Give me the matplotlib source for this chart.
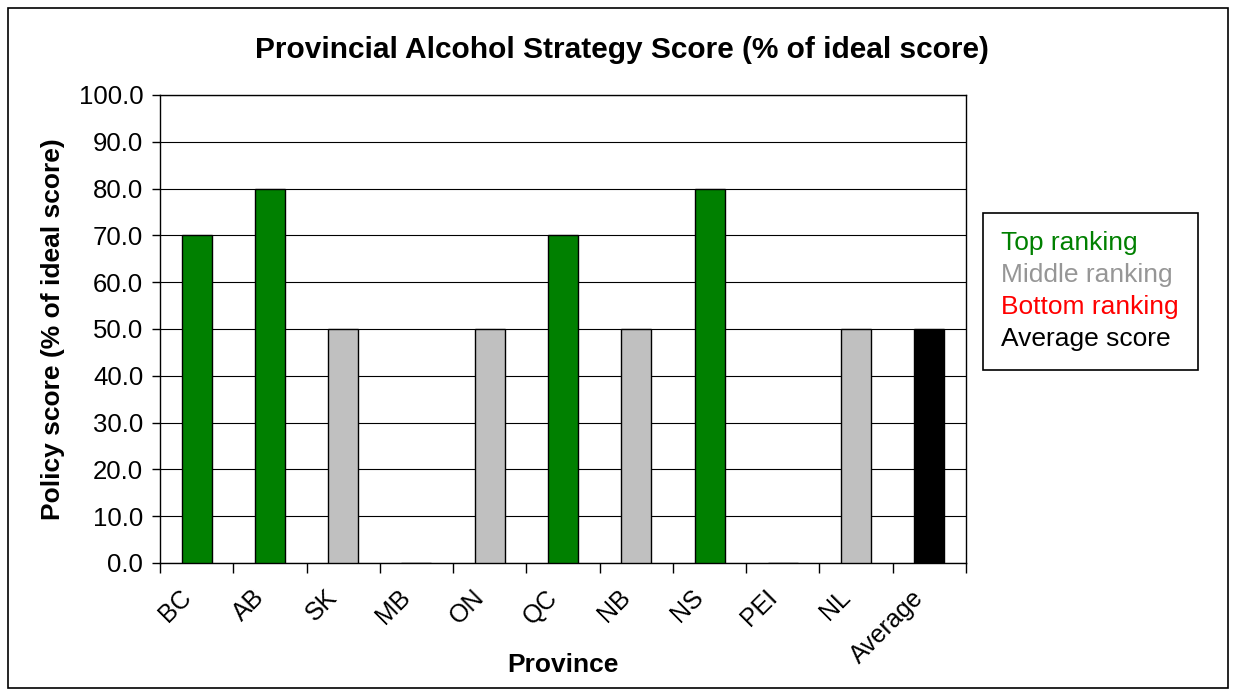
import matplotlib.pyplot as plt
from matplotlib.patches import Patch, Rectangle
import matplotlib.transforms as mtransforms
import numpy as np

provinces = ['BC', 'AB', 'SK', 'MB', 'ON', 'QC', 'NB', 'NS', 'PEI', 'NL', 'Average']
scores = [70, 80, 50, 0, 50, 70, 50, 80, 0, 50, 50]
ranking = ['top', 'top', 'middle', 'bottom', 'middle', 'top', 'middle', 'top', 'bottom', 'middle', 'average']
legend_labels = ['Top ranking', 'Middle ranking', 'Bottom ranking', 'Average score']

colors = {'top': '#008000', 'middle': '#C0C0C0', 'bottom': '#FF0000', 'average': '#000000'}
text_colors = ['#008000', '#969696', '#FF0000', '#000000']

plt.rcParams['font.family'] = ['Liberation Sans', 'DejaVu Sans']

dpi = 100
fig = plt.figure(dpi=dpi, figsize=(1236 / dpi, 691 / dpi))
fig.patches.append(Rectangle((8 / 1236, 3 / 691), 1220 / 1236, 680 / 691, transform=fig.transFigure,
                             fill=False, edgecolor='black', linewidth=1.2))

ax = fig.add_axes([160 / 1236, 1 - 563 / 691, 806 / 1236, 468 / 691])
x = np.arange(len(provinces))
ax.bar(x, scores, width=0.41, color=[colors[r] for r in ranking], edgecolor='black', linewidth=1, zorder=3)

ax.set_xlim(-0.5, len(provinces) - 0.5)
ax.set_ylim(0, 100)
ax.set_yticks(np.arange(0, 101, 10))
ax.set_yticklabels(['%.1f' % v for v in np.arange(0, 101, 10)], fontsize=18.5)
ax.yaxis.grid(True, color='black', linewidth=0.8)
ax.set_axisbelow(True)

ax.set_xticks(x)
ax.set_xticks(np.arange(-0.5, len(provinces), 1), minor=True)
ax.tick_params(axis='x', which='major', length=0, pad=16)
ax.tick_params(axis='x', which='minor', length=7, width=1, direction='out')
ax.tick_params(axis='y', length=6, width=1, direction='out', pad=6)
ax.set_xticklabels(provinces, fontsize=18, rotation=45, ha='right', va='top', rotation_mode='anchor')
offset = mtransforms.ScaledTranslation(-18 / dpi, 0, fig.dpi_scale_trans)
for lbl in ax.get_xticklabels():
    lbl.set_transform(lbl.get_transform() + offset)

for s in ax.spines.values():
    s.set_linewidth(1)

ax.set_xlabel('Province', fontsize=19, fontweight='bold', va='center')
ax.xaxis.set_label_coords(0.5, (563 - 665) / 468)
ax.set_ylabel('Policy score (% of ideal score)', fontsize=19, fontweight='bold', labelpad=10)
fig.text(0.503, 0.928, 'Provincial Alcohol Strategy Score (% of ideal score)',
         fontsize=21.5, fontweight='bold', ha='center', va='center')

handles = [Patch(visible=False) for _ in legend_labels]
leg = fig.legend(handles, legend_labels, loc='upper left', bbox_to_anchor=(983 / 1236, 1 - 213 / 691),
                 fontsize=19, handlelength=0, handletextpad=0, labelcolor=text_colors,
                 fancybox=False, edgecolor='black', framealpha=1, borderpad=0.7,
                 labelspacing=0.3, borderaxespad=0)
leg.get_frame().set_linewidth(1.2)

plt.savefig('out.png')
